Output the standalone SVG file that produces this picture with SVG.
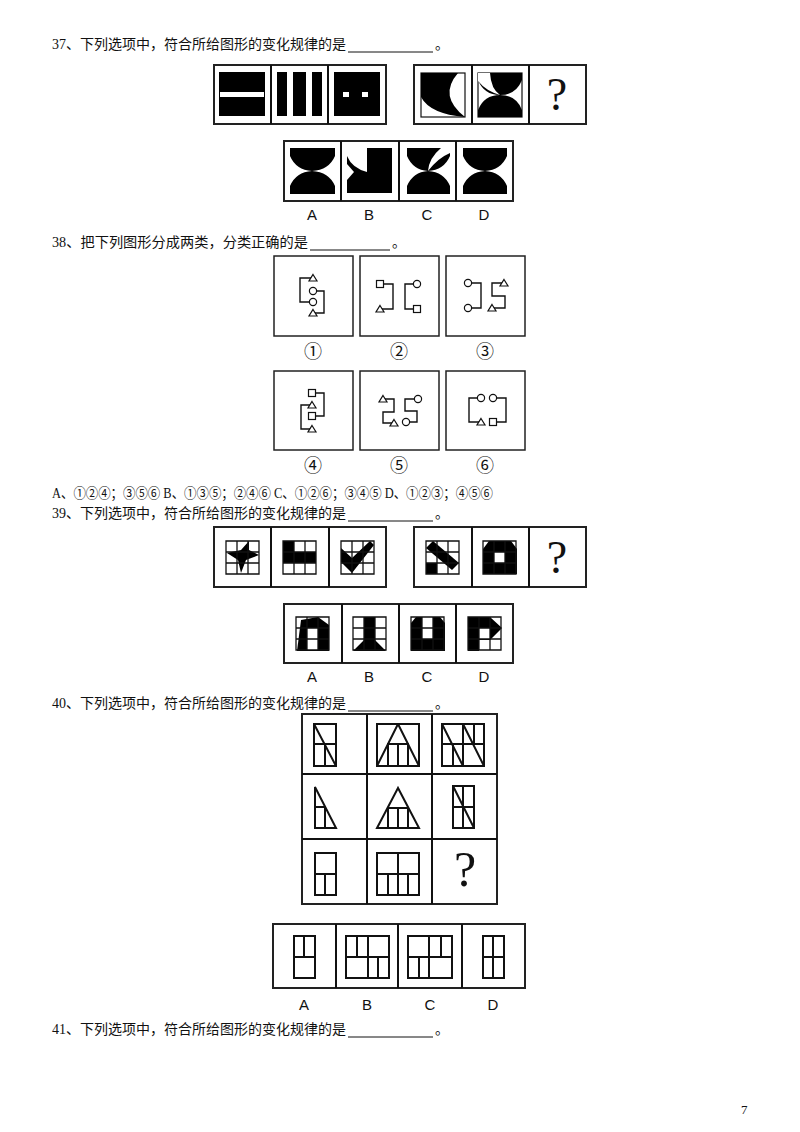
<svg xmlns="http://www.w3.org/2000/svg" width="800" height="1132" viewBox="0 0 800 1132">
<style>
text{font-family:"Liberation Serif","Noto Sans CJK SC",serif;fill:#111}
.q{font-size:14px}
.lbl{font-family:"Liberation Sans","Noto Sans CJK SC",sans-serif;font-size:15px;text-anchor:middle}
.cn{font-size:18px;text-anchor:middle}
.qm{font-size:46px;text-anchor:middle}
.box{fill:#fff;stroke:#222;stroke-width:2}
.b1{fill:#fff;stroke:#222;stroke-width:1.5}
.blk{fill:#000}
.wht{fill:#fff}
.ln{fill:none;stroke:#111;stroke-width:1.4}
.gr{fill:none;stroke:#111;stroke-width:1.3}
.th{fill:none;stroke:#111;stroke-width:2}
.ul{stroke:#111;stroke-width:1}
</style>
<rect width="800" height="1132" fill="#fff"/>
<g id="texts">
<text class="q" x="52" y="49" textLength="294" lengthAdjust="spacingAndGlyphs">37、下列选项中，符合所给图形的变化规律的是</text>
<line class="ul" x1="348" y1="52" x2="433" y2="52"/><text class="q" x="435" y="49">。</text>
<text class="q" x="52" y="247" textLength="256" lengthAdjust="spacingAndGlyphs">38、把下列图形分成两类，分类正确的是</text>
<line class="ul" x1="310" y1="250" x2="390" y2="250"/><text class="q" x="392" y="247">。</text>
<text class="q" x="52" y="498" textLength="441" lengthAdjust="spacingAndGlyphs">A、①②④；③⑤⑥   B、①③⑤；②④⑥   C、①②⑥；③④⑤   D、①②③；④⑤⑥</text>
<text class="q" x="52" y="518" textLength="294" lengthAdjust="spacingAndGlyphs">39、下列选项中，符合所给图形的变化规律的是</text>
<line class="ul" x1="348" y1="521" x2="433" y2="521"/><text class="q" x="435" y="518">。</text>
<text class="q" x="52" y="708" textLength="294" lengthAdjust="spacingAndGlyphs">40、下列选项中，符合所给图形的变化规律的是</text>
<line class="ul" x1="348" y1="711" x2="433" y2="711"/><text class="q" x="435" y="708">。</text>
<text class="q" x="52" y="1034" textLength="294" lengthAdjust="spacingAndGlyphs">41、下列选项中，符合所给图形的变化规律的是</text>
<line class="ul" x1="348" y1="1037" x2="433" y2="1037"/><text class="q" x="435" y="1034">。</text>
<text x="741" y="1114" style="font-size:13px">7</text>
</g>

<g id="q37">
<rect class="box" x="214" y="65" width="172" height="59"/>
<line class="ul" x1="271" y1="65" x2="271" y2="124" style="stroke-width:2"/>
<line class="ul" x1="328" y1="65" x2="328" y2="124" style="stroke-width:2"/>
<rect class="blk" x="219" y="72" width="46" height="44"/><rect class="wht" x="220" y="92" width="44" height="5"/>
<rect class="blk" x="277" y="72" width="45" height="44"/><rect class="wht" x="287" y="72" width="6" height="44"/><rect class="wht" x="306" y="72" width="6" height="44"/>
<rect class="blk" x="334" y="72" width="46" height="44"/><rect class="wht" x="343" y="92" width="6" height="5"/><rect class="wht" x="362" y="92" width="6" height="5"/>
<rect class="box" x="414" y="65" width="172" height="59"/>
<line class="ul" x1="472" y1="65" x2="472" y2="124" style="stroke-width:2"/>
<line class="ul" x1="529" y1="65" x2="529" y2="124" style="stroke-width:2"/>
<rect x="421" y="73" width="44" height="44" fill="none" stroke="#111" stroke-width="1.2"/>
<path class="blk" d="M421,73 H458 Q438,96 465,117 Q430,114 421,97 Z"/>
<rect x="478" y="73" width="44" height="44" fill="none" stroke="#111" stroke-width="1.2"/>
<path class="blk" d="M478,73 H522 V80 Q516,95 500,95 Q484,95 478,80 Z"/>
<path class="blk" d="M478,117 H522 V110 Q516,95 500,95 Q484,95 478,110 Z"/>
<path class="wht" d="M478,73 H490 Q491,89 500,95 Q486,91 478,81 Z"/>
<text class="qm" x="557" y="110">?</text>
</g>

<g id="q37opts">
<rect class="box" x="284" y="141" width="229" height="60"/>
<line class="ul" x1="341" y1="141" x2="341" y2="201" style="stroke-width:2"/>
<line class="ul" x1="399" y1="141" x2="399" y2="201" style="stroke-width:2"/>
<line class="ul" x1="456" y1="141" x2="456" y2="201" style="stroke-width:2"/>
<path class="blk" d="M290,148 H335 V156 Q329,170 312,171 Q296,170 290,156 Z M290,194 H335 V186 Q329,172 312,171 Q296,172 290,186 Z"/>
<rect class="blk" x="347" y="148" width="45" height="45"/>
<path class="wht" d="M347,148 H367 V172 Q352,168 347,156 Z"/>
<path class="wht" d="M347,164 L354,172 L347,180 Z"/>
<path class="blk" d="M407,148 H450 V156 Q444,170 428,171 Q413,170 407,156 Z M407,194 H450 V186 Q444,172 428,171 Q413,172 407,186 Z"/>
<path class="wht" d="M450,148 H441 Q429,158 428,171 Q438,158 450,153 Z"/>
<path class="blk" d="M463,148 H507 V156 Q501,170 485,171 Q469,170 463,156 Z M463,194 H507 V186 Q501,172 485,171 Q469,172 463,186 Z"/>
<text class="lbl" x="312" y="220">A</text><text class="lbl" x="369" y="220">B</text><text class="lbl" x="427" y="220">C</text><text class="lbl" x="484" y="220">D</text>
</g>

<defs>
<path id="tri" d="M0,-3.5 L4,3 L-4,3 Z" fill="#fff" stroke="#111" stroke-width="1.2"/>
<circle id="cir" r="3.6" fill="#fff" stroke="#111" stroke-width="1.2"/>
<rect id="sq" x="-3.5" y="-3.5" width="7" height="7" fill="#fff" stroke="#111" stroke-width="1.2"/>
</defs>

<g id="q38-1">
<rect class="b1" x="274" y="256" width="79" height="80"/>
<path class="ln" d="M313,278 H300 V302 H313 M313,291 H324 V313 H313"/>
<use href="#tri" x="313" y="278"/><use href="#cir" x="313" y="291"/><use href="#cir" x="313" y="302"/><use href="#tri" x="313" y="313"/>
<text class="cn" x="313" y="358">①</text>
</g>
<g id="q38-2">
<rect class="b1" x="360" y="256" width="79" height="80"/>
<path class="ln" d="M380,284 H393 V309 H380 M417,284 H405 V309 H417"/>
<use href="#sq" x="380" y="284"/><use href="#tri" x="380" y="309"/><use href="#cir" x="417" y="284"/><use href="#sq" x="417" y="309"/>
<text class="cn" x="399" y="358">②</text>
</g>
<g id="q38-3">
<rect class="b1" x="446" y="256" width="79" height="80"/>
<path class="ln" d="M468,283 H481 V308 H468 M504,283 H492 V296 H505 V308 H492"/>
<use href="#cir" x="468" y="283"/><use href="#cir" x="468" y="308"/><use href="#tri" x="504" y="283"/><use href="#tri" x="492" y="308"/>
<text class="cn" x="485" y="358">③</text>
</g>
<g id="q38-4">
<rect class="b1" x="274" y="371" width="79" height="79"/>
<path class="ln" d="M312,393 H324 V416 H312 M312,405 H301 V429 H312"/>
<use href="#sq" x="312" y="393"/><use href="#tri" x="312" y="405"/><use href="#sq" x="312" y="416"/><use href="#tri" x="312" y="429"/>
<text class="cn" x="313" y="472">④</text>
</g>
<g id="q38-5">
<rect class="b1" x="360" y="371" width="79" height="79"/>
<path class="ln" d="M383,399 H394 V412 H383 V423 H394 M418,399 H405 V411 H417 V422 H406"/>
<use href="#tri" x="383" y="399"/><use href="#tri" x="394" y="423"/><use href="#cir" x="418" y="399"/><use href="#cir" x="406" y="422"/>
<text class="cn" x="399" y="472">⑤</text>
</g>
<g id="q38-6">
<rect class="b1" x="446" y="371" width="79" height="79"/>
<path class="ln" d="M481,398 H469 V422 H481 M493,398 H506 V422 H493"/>
<use href="#cir" x="481" y="398"/><use href="#tri" x="481" y="422"/><use href="#cir" x="493" y="398"/><use href="#sq" x="493" y="422"/>
<text class="cn" x="485" y="472">⑥</text>
</g>

<defs>
<path id="grid" class="gr" d="M0,0 H33 V33 H0 Z M11,0 V33 M22,0 V33 M0,11 H33 M0,22 H33"/>
</defs>
<g id="q39">
<rect class="box" x="214" y="527" width="172" height="60"/>
<line class="ul" x1="271" y1="527" x2="271" y2="587" style="stroke-width:2"/>
<line class="ul" x1="329" y1="527" x2="329" y2="587" style="stroke-width:2"/>
<polygon class="blk" points="227,553 241,550 249,541 249,550 259,555 246,560 241,573 238,560"/>
<use href="#grid" x="226" y="541"/>
<path class="blk" d="M283,541 H294 V552 H316 V563 H283 Z"/>
<use href="#grid" x="283" y="541"/>
<polygon class="blk" points="341,548 352,558 370,541 374,545 352,573 341,562"/>
<use href="#grid" x="341" y="541"/>
<rect class="box" x="414" y="527" width="172" height="60"/>
<line class="ul" x1="472" y1="527" x2="472" y2="587" style="stroke-width:2"/>
<line class="ul" x1="529" y1="527" x2="529" y2="587" style="stroke-width:2"/>
<polygon class="blk" points="426,548 433,541 459,563 452,570"/>
<rect class="blk" x="426" y="563" width="11" height="11"/>
<use href="#grid" x="426" y="541"/>
<path class="blk" d="M489,541 H511 L517,549 V574 H483 V549 Z"/>
<rect class="wht" x="494" y="552" width="11" height="11"/>
<use href="#grid" x="483" y="541"/>
<text class="qm" x="557" y="573">?</text>
</g>
<g id="q39opts">
<rect class="box" x="284" y="604" width="229" height="59"/>
<line class="ul" x1="342" y1="604" x2="342" y2="663" style="stroke-width:2"/>
<line class="ul" x1="399" y1="604" x2="399" y2="663" style="stroke-width:2"/>
<line class="ul" x1="456" y1="604" x2="456" y2="663" style="stroke-width:2"/>
<path class="blk" d="M301,620 L318,617 L329,625 V651 H297 Z"/>
<rect class="wht" x="307" y="628" width="11" height="22"/>
<use href="#grid" x="296" y="617"/>
<polygon class="blk" points="364,617 375,617 375,640 386,651 353,651 364,640"/>
<use href="#grid" x="353" y="617"/>
<path class="blk" d="M416,617 H440 L445,623 V651 H411 V623 Z"/>
<rect class="wht" x="422" y="617" width="11" height="22"/>
<use href="#grid" x="411" y="617"/>
<polygon class="blk" points="468,617 490,617 502,628 490,640 479,640 479,651 468,651"/>
<rect class="wht" x="479" y="628" width="11" height="11"/>
<use href="#grid" x="468" y="617"/>
<text class="lbl" x="312" y="682">A</text><text class="lbl" x="369" y="682">B</text><text class="lbl" x="427" y="682">C</text><text class="lbl" x="484" y="682">D</text>
</g>

<g id="q40">
<rect class="box" x="302" y="714" width="195" height="190"/>
<path class="th" d="M367,714 V904 M432,714 V904 M302,774 H497 M302,839 H497"/>
<path class="th" d="M314,724 H336 V766 H314 Z M314,744 H336 M325,744 V766 M314,724 L336,766"/>
<path class="th" d="M377,724 H419 V766 H377 Z M398,724 L377,766 M398,724 L419,766 M387,744 H409 M388,744 V766 M398,744 V766 M408,744 V766"/>
<path class="th" d="M442,724 H484 V766 H442 Z M463,724 V766 M442,744 H463 M453,744 V766 M442,724 L463,766 M463,724 L484,766 M474,724 V744 M463,744 H484"/>
<path class="th" d="M315,787 V828 H336 Z M315,807 H326 M325,807 V828"/>
<path class="th" d="M398,788 L377,828 H419 Z M388,808 H408 M388,808 V828 M398,808 V828 M408,808 V828"/>
<path class="th" d="M453,786 H474 V828 H453 Z M463,786 V828 M453,807 H474 M453,786 L474,828"/>
<path class="th" d="M315,853 H336 V895 H315 Z M315,874 H336 M325,874 V895"/>
<path class="th" d="M377,853 H419 V895 H377 Z M398,853 V895 M377,874 H419 M388,874 V895 M408,874 V895"/>
<text class="qm" x="465" y="886" style="font-size:50px">?</text>
</g>
<g id="q40opts">
<rect class="box" x="273" y="924" width="252" height="64"/>
<path class="th" d="M336,924 V988 M398,924 V988 M462,924 V988"/>
<path class="th" d="M294,936 H315 V978 H294 Z M294,957 H315 M304,936 V957"/>
<path class="th" d="M346,936 H389 V978 H346 Z M368,936 V978 M346,957 H389 M357,936 V957 M378,957 V978"/>
<path class="th" d="M408,936 H452 V978 H408 Z M429,936 V978 M408,957 H452 M441,936 V957 M419,957 V978"/>
<path class="th" d="M483,936 H504 V978 H483 Z M493,936 V978 M483,957 H504"/>
<text class="lbl" x="304" y="1010">A</text><text class="lbl" x="367" y="1010">B</text><text class="lbl" x="430" y="1010">C</text><text class="lbl" x="493" y="1010">D</text>
</g>
<g id="connectors"/>
</svg>
